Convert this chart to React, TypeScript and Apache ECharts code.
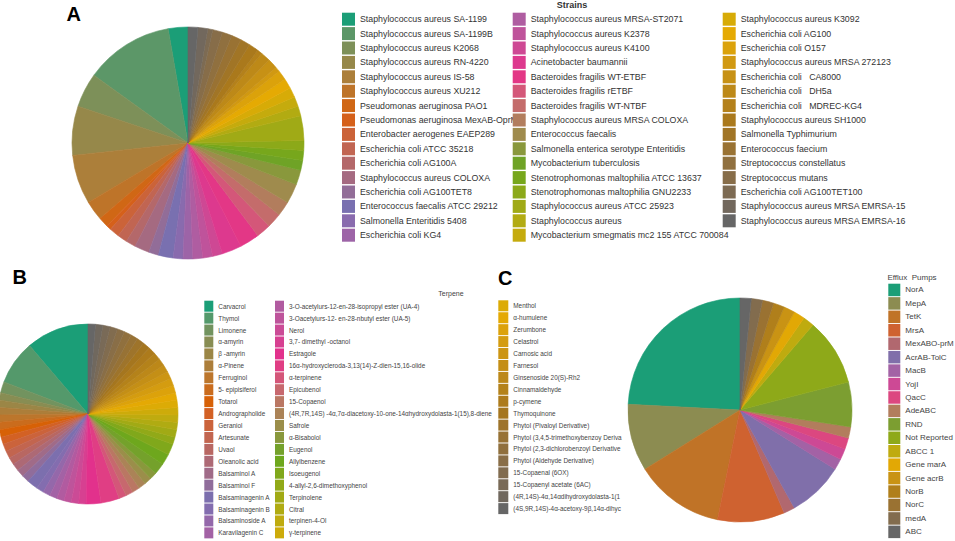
import React, { useEffect, useRef } from "react";
import * as echarts from "echarts";

// ---------- Panel A : strains ----------
const strainNames = [
  "Staphylococcus aureus SA-1199",
  "Staphylococcus aureus SA-1199B",
  "Staphylococcus aureus K2068",
  "Staphylococcus aureus RN-4220",
  "Staphylococcus aureus IS-58",
  "Staphylococcus aureus XU212",
  "Pseudomonas aeruginosa PAO1",
  "Pseudomonas aeruginosa MexAB-OprM",
  "Enterobacter aerogenes EAEP289",
  "Escherichia coli ATCC 35218",
  "Escherichia coli AG100A",
  "Staphylococcus aureus COLOXA",
  "Escherichia coli AG100TET8",
  "Enterococcus faecalis ATCC 29212",
  "Salmonella Enteritidis 5408",
  "Escherichia coli KG4",
  "Staphylococcus aureus MRSA-ST2071",
  "Staphylococcus aureus K2378",
  "Staphylococcus aureus K4100",
  "Acinetobacter baumannii",
  "Bacteroides fragilis WT-ETBF",
  "Bacteroides fragilis rETBF",
  "Bacteroides fragilis WT-NTBF",
  "Staphylococcus aureus MRSA COLOXA",
  "Enterococcus faecalis",
  "Salmonella enterica serotype Enteritidis",
  "Mycobacterium tuberculosis",
  "Stenotrophomonas maltophilia ATCC 13637",
  "Stenotrophomonas maltophilia GNU2233",
  "Staphylococcus aureus ATCC 25923",
  "Staphylococcus aureus",
  "Mycobacterium smegmatis mc2 155 ATCC 700084",
  "Staphylococcus aureus K3092",
  "Escherichia coli AG100",
  "Escherichia coli O157",
  "Staphylococcus aureus MRSA 272123",
  "Escherichia coli   CA8000",
  "Escherichia coli   DH5a",
  "Escherichia coli   MDREC-KG4",
  "Staphylococcus aureus SH1000",
  "Salmonella Typhimurium",
  "Enterococcus faecium",
  "Streptococcus constellatus",
  "Streptococcus mutans",
  "Escherichia coli AG100TET100",
  "Staphylococcus aureus MRSA EMRSA-15",
  "Staphylococcus aureus MRSA EMRSA-16",
];
const strainCounts = [
  4, 18, 7, 10, 10, 4, 2, 1, 2, 2, 2, 3, 2, 3, 2, 2,
  2, 2, 2, 4, 4, 3, 3, 3, 4, 3, 2, 2, 2, 5, 2, 2,
  2, 2, 2, 1, 2, 2, 1, 2, 2, 2, 2, 2, 1, 2, 2,
];

// ---------- Panel B : terpenes ----------
const terpeneNames = [
  "Carvacrol", "Thymol", "Limonene", "α-amyrin", "β -amyrin", "α-Pinene",
  "Ferruginol", "5- epipisiferol", "Totarol", "Andrographolide", "Geraniol",
  "Artesunate", "Uvaol", "Oleanolic acid", "Balsaminol A", "Balsaminol F",
  "Balsaminagenin A", "Balsaminagenin B", "Balsaminoside A", "Karavilagenin C",
  "3-O-acetylurs-12-en-28-isopropyl ester (UA-4)",
  "3-Oacetylurs-12- en-28-nbutyl ester (UA-5)",
  "Nerol", "3,7- dimethyl -octanol", "Estragole",
  "16α-hydroxycleroda-3,13(14)-Z-dien-15,16-olide",
  "α-terpinene", "Epicubenol", "15-Copaenol",
  "(4R,7R,14S) -4α,7α-diacetoxy-10-one-14αhydroxydolasta-1(15),8-diene",
  "Safrole", "α-Bisabolol", "Eugenol", "Allylbenzene", "Isoeugenol",
  "4-allyl-2,6-dimethoxyphenol", "Terpinolene", "Citral", "terpinen-4-Ol", "γ-terpinene",
  "Menthol", "α-humulene", "Zerumbone", "Celastrol", "Carnosic acid", "Farnesol",
  "Ginsenoside 20(S)-Rh2", "Cinnamaldehyde", "p-cymene", "Thymoquinone",
  "Phytol (Pivaloyl Derivative)", "Phytol (3,4,5-trimethoxybenzoy Deriva",
  "Phytol (2,3-dichlorobenzoyl Derivative", "Phytol (Aldehyde Derivative)",
  "15-Copaenal (6OX)", "15-Copaenyl acetate (6AC)",
  "(4R,14S)-4α,14αdihydroxydolasta-1(1", "(4S,9R,14S)-4α-acetoxy-9β,14α-dihyc",
];
const terpeneCounts = [
  17, 12, 3, 2, 2, 2, 2, 2, 2, 2, 2, 2, 2, 2, 2, 2, 3, 2, 2, 2,
  2, 2, 2, 2, 4, 5, 2, 2, 2, 2, 2, 2, 3, 3, 3, 2, 2, 2, 2, 2,
  2, 2, 2, 2, 2, 2, 2, 2, 2, 2, 2, 2, 2, 2, 2, 2, 2, 2,
];

// ---------- Panel C : efflux pumps ----------
const pumpNames = [
  "NorA", "MepA", "TetK", "MrsA", "MexABO-prM", "AcrAB-TolC", "MacB", "YojI",
  "QacC", "AdeABC", "RND", "Not Reported", "ABCC 1", "Gene marA", "Gene acrB",
  "NorB", "NorC", "medA", "ABC",
];
const pumpCounts = [15, 6, 8, 6, 1, 5, 1, 1, 1, 1, 4, 6, 1, 1, 1, 1, 1, 1, 1];

const DARK2 = ["#1B9E77", "#D95F02", "#7570B3", "#E7298A", "#66A61E", "#E6AB02", "#A6761D", "#666666"];

// ---- colour ramp interpolated in CIE Lab ----
function toLin(c: number) {
  c /= 255;
  return c <= 0.04045 ? c / 12.92 : Math.pow((c + 0.055) / 1.055, 2.4);
}
function fromLin(c: number) {
  const v = c <= 0.0031308 ? 12.92 * c : 1.055 * Math.pow(c, 1 / 2.4) - 0.055;
  return Math.max(0, Math.min(255, Math.round(v * 255)));
}
const WN = [0.95047, 1, 1.08883];
function hexToLab(h: string) {
  const r = toLin(parseInt(h.slice(1, 3), 16));
  const g = toLin(parseInt(h.slice(3, 5), 16));
  const b = toLin(parseInt(h.slice(5, 7), 16));
  const X = (0.4124 * r + 0.3576 * g + 0.1805 * b) / WN[0];
  const Y = (0.2126 * r + 0.7152 * g + 0.0722 * b) / WN[1];
  const Z = (0.0193 * r + 0.1192 * g + 0.9505 * b) / WN[2];
  const f = (t: number) => (t > 0.008856 ? Math.cbrt(t) : 7.787 * t + 16 / 116);
  const fx = f(X), fy = f(Y), fz = f(Z);
  return [116 * fy - 16, 500 * (fx - fy), 200 * (fy - fz)];
}
function labToRgb(L: number, a: number, bb: number) {
  const fy = (L + 16) / 116;
  const fx = fy + a / 500;
  const fz = fy - bb / 200;
  const inv = (f: number) => (f * f * f > 0.008856 ? f * f * f : (f - 16 / 116) / 7.787);
  const X = inv(fx) * WN[0], Y = inv(fy) * WN[1], Z = inv(fz) * WN[2];
  const r = 3.2406 * X - 1.5372 * Y - 0.4986 * Z;
  const g = -0.9689 * X + 1.8758 * Y + 0.0415 * Z;
  const b = 0.0557 * X - 0.204 * Y + 1.057 * Z;
  return "rgb(" + fromLin(r) + "," + fromLin(g) + "," + fromLin(b) + ")";
}
function ramp(n: number): string[] {
  const stops = DARK2.map(hexToLab);
  const out: string[] = [];
  for (let i = 0; i < n; i++) {
    const t = n === 1 ? 0 : (i / (n - 1)) * (stops.length - 1);
    const k = Math.min(Math.floor(t), stops.length - 2);
    const f = t - k;
    const c = stops[k].map((v, j) => v + (stops[k + 1][j] - v) * f);
    out.push(labToRgb(c[0], c[1], c[2]));
  }
  return out;
}

const FONT = "Liberation Sans, Arial, sans-serif";

function pieSeries(names: string[], counts: number[], center: number[], r: number) {
  const cols = ramp(names.length);
  return {
    type: "pie",
    center,
    radius: [0, r],
    startAngle: 90,
    clockwise: false,
    silent: true,
    avoidLabelOverlap: false,
    label: { show: false },
    labelLine: { show: false },
    emphasis: { disabled: true },
    data: names.map((n, i) => ({
      name: n,
      value: counts[i],
      itemStyle: { color: cols[i], borderColor: cols[i], borderWidth: 0.6 },
    })),
  };
}

function legendCol(
  names: string[],
  left: number,
  top: number,
  w: number,
  h: number,
  gap: number,
  fontSize: number,
  color: string
) {
  return {
    orient: "vertical",
    left,
    top,
    height: 600,
    padding: 0,
    itemWidth: w,
    itemHeight: h,
    itemGap: gap,
    icon: "rect",
    selectedMode: false,
    data: names,
    itemStyle: { borderWidth: 0 },
    textStyle: { fontSize, color, fontFamily: FONT, padding: 0 },
  };
}

function label(text: string, x: number, y: number, font: string, fill: string) {
  return {
    type: "text",
    x,
    y,
    style: { text, font, fill, align: "center", verticalAlign: "middle", textAlign: "center", textVerticalAlign: "middle" },
  };
}

export default function App() {
  const ref = useRef<HTMLDivElement>(null);
  useEffect(() => {
    if (!ref.current) return;
    const chart = echarts.init(ref.current, null, { renderer: "svg" });
    const option = {
      animation: false,
      backgroundColor: "#ffffff",
      legend: [
        legendCol(strainNames.slice(0, 16), 342, 12.7, 13, 13, 1.4, 8.8, "#333"),
        legendCol(strainNames.slice(16, 32), 512.7, 12.7, 13, 13, 1.4, 8.8, "#333"),
        legendCol(strainNames.slice(32), 722.7, 12.7, 13, 13, 1.4, 8.8, "#333"),
        legendCol(terpeneNames.slice(0, 20), 204.3, 300.7, 9, 11, 0.93, 6.4, "#444"),
        legendCol(terpeneNames.slice(20, 40), 275, 300.7, 9, 11, 0.93, 6.4, "#444"),
        legendCol(terpeneNames.slice(40), 498.3, 300.3, 10, 11, 0.93, 6.4, "#444"),
        legendCol(pumpNames, 888.3, 283.7, 12, 12.5, 0.94, 8, "#444"),
      ],
      graphic: [
        label("A", 73.8, 13.7, "bold 20px " + FONT, "#000"),
        label("B", 19.7, 277, "bold 20px " + FONT, "#000"),
        label("C", 505.3, 278, "bold 20px " + FONT, "#000"),
        label("Strains", 572, 5, "bold 9px " + FONT, "#333"),
        label("Terpene", 451, 293.5, "7px " + FONT, "#444"),
        label("Efflux  Pumps", 912, 277, "8px " + FONT, "#444"),
      ],
      series: [
        pieSeries(strainNames, strainCounts, [188, 143], 116),
        pieSeries(terpeneNames, terpeneCounts, [88, 414], 90),
        pieSeries(pumpNames, pumpCounts, [740, 410], 112),
      ],
    };
    chart.setOption(option as any);
    return () => chart.dispose();
  }, []);
  return (
    <div
      ref={ref}
      style={{ position: "fixed", left: 0, top: 0, width: 955, height: 541, background: "#fff" }}
    />
  );
}
